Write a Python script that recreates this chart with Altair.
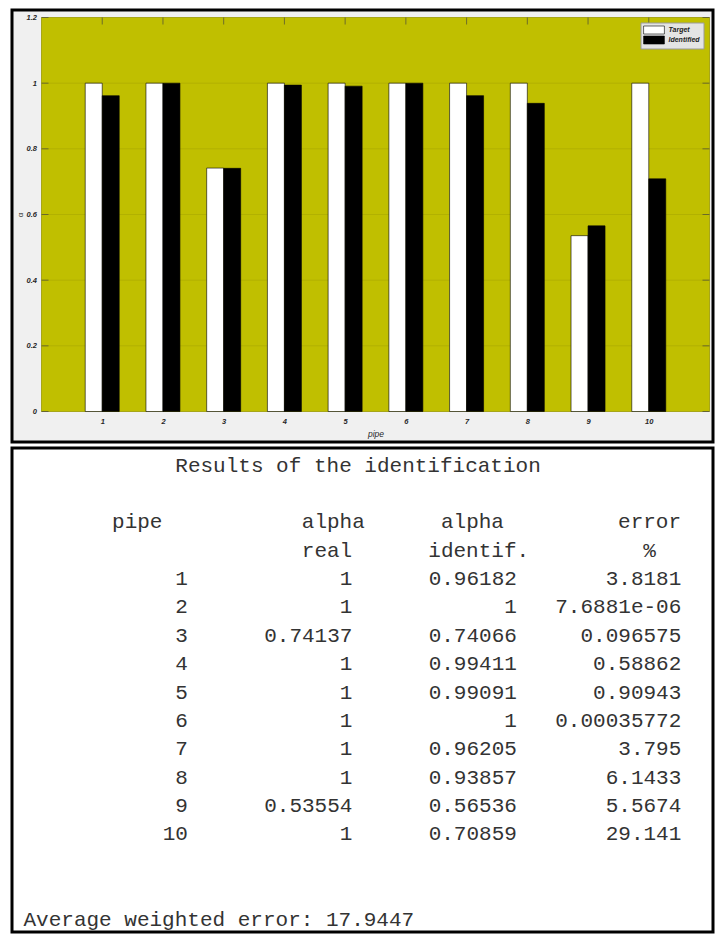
import altair as alt
import pandas as pd

# ---------------- data ----------------
pipes = [1, 2, 3, 4, 5, 6, 7, 8, 9, 10]
alpha_real = [1, 1, 0.74137, 1, 1, 1, 1, 1, 0.53554, 1]
alpha_identified = [0.96182, 1, 0.74066, 0.99411, 0.99091, 1, 0.96205, 0.93857, 0.56536, 0.70859]
error_percent = [3.8181, 7.6881e-06, 0.096575, 0.58862, 0.90943, 0.00035772, 3.795, 6.1433, 5.5674, 29.141]
average_weighted_error = 17.9447
series_names = ["Target", "Identified"]
x_tick_values = [1, 2, 3, 4, 5, 6, 7, 8, 9, 10]
y_tick_values = [0, 0.2, 0.4, 0.6, 0.8, 1, 1.2]
x_limits = [0, 11]
y_limits = [0, 1.2]
report_title = "Results of the identification"
header_line_1 = ["pipe", "alpha", "alpha", "error"]
header_line_2 = ["real", "identif.", "%"]
footer_label = "Average weighted error:"

# ---------------- layout (pixels / text columns) ----------------
W = 701
HT = 432
HB = 484
TOP_LEFT, TOP_TOP = 11.5, 9.5          # page position of top view
BOT_TOP = 446.5                        # page position of bottom view
BOX_L, BOX_R, BOX_T, BOX_B = 41, 709, 17, 411   # page position of plot box

OLIVE = "#c0bf00"
GRID = "#b2b100"
TICKC = "#4a4a3a"
LABEL = "#262626"
SANS = "Liberation Sans"
MONO = "Liberation Mono"

px_x = (BOX_R - BOX_L) / (x_limits[1] - x_limits[0])
xd0 = x_limits[0] - (BOX_L - TOP_LEFT) / px_x
xd1 = xd0 + W / px_x
px_y = (BOX_B - BOX_T) / (y_limits[1] - y_limits[0])
yd0 = y_limits[0] - (TOP_TOP + HT - BOX_B) / px_y
yd1 = y_limits[1] + (BOX_T - TOP_TOP) / px_y

XS = alt.Scale(domain=[xd0, xd1], nice=False, zero=False, padding=0)
YS = alt.Scale(domain=[yd0, yd1], nice=False, zero=False, padding=0)

x_axis = alt.Axis(
    values=x_tick_values, format="d", offset=-(TOP_TOP + HT - BOX_B),
    domain=False, ticks=False, grid=False, labelPadding=6, labelFlush=False,
    labelOverlap=False, labelFont=SANS, labelFontSize=7.5, labelFontStyle="italic",
    labelFontWeight="bold", labelColor=LABEL,
    title="pipe", titleX=375 - TOP_LEFT, titleY=22, titleAlign="center",
    titleBaseline="middle", titleFont=SANS, titleFontSize=8.5, titleFontStyle="italic",
    titleFontWeight="normal", titleColor=LABEL,
)
y_axis = alt.Axis(
    values=y_tick_values, format="~g", offset=-(BOX_L - TOP_LEFT),
    domain=False, ticks=False, grid=False, labelPadding=5, labelFlush=False,
    labelOverlap=False, labelFont=SANS, labelFontSize=7.5, labelFontStyle="italic",
    labelFontWeight="bold", labelColor=LABEL,
    title="α", titleX=20 - BOX_L, titleY=214 - TOP_TOP, titleAngle=270,
    titleAlign="center", titleBaseline="middle", titleFont=SANS, titleFontSize=8,
    titleFontWeight="normal", titleColor=LABEL,
)


def xy(xf, yf):
    return dict(x=alt.X(xf, type="quantitative", scale=XS, axis=x_axis),
                y=alt.Y(yf, type="quantitative", scale=YS, axis=y_axis))


box_df = pd.DataFrame({"x0": [x_limits[0]], "x1": [x_limits[1]],
                       "y0": [y_limits[0]], "y1": [y_limits[1]]})
box = alt.Chart(box_df).mark_rect(fill=OLIVE, stroke="#9a9900", strokeWidth=0.8).encode(
    **xy("x0", "y0"), x2="x1", y2="y1")

grid_df = pd.DataFrame({"y": y_tick_values[1:-1]})
grid_df["x0"] = x_limits[0]
grid_df["x1"] = x_limits[1]
grid = alt.Chart(grid_df).mark_rule(color=GRID, strokeWidth=1).encode(**xy("x0", "y"), x2="x1")

xt_df = pd.DataFrame({"x": x_tick_values})
xt_df["ytop"] = y_limits[1]
xt_df["ybot"] = y_limits[0]
yt_df = pd.DataFrame({"y": y_tick_values})
yt_df["xl"] = x_limits[0]
yt_df["xr"] = x_limits[1]

tick_top = alt.Chart(xt_df).mark_tick(orient="vertical", size=7, thickness=1, yOffset=3.5,
                                      color=TICKC).encode(**xy("x", "ytop"))
tick_bot = alt.Chart(xt_df).mark_tick(orient="vertical", size=7, thickness=1, yOffset=-3.5,
                                      color=TICKC).encode(**xy("x", "ybot"))
tick_left = alt.Chart(yt_df).mark_tick(orient="horizontal", size=7, thickness=1, xOffset=3.5,
                                       color=TICKC).encode(**xy("xl", "y"))
tick_right = alt.Chart(yt_df).mark_tick(orient="horizontal", size=7, thickness=1, xOffset=-3.5,
                                        color=TICKC).encode(**xy("xr", "y"))

bars_df = pd.DataFrame({
    "pipe": pipes * 2,
    "alpha": alpha_real + alpha_identified,
    "series": [series_names[0]] * len(pipes) + [series_names[1]] * len(pipes),
})

legend = alt.Legend(
    title=None, orient="none", legendX=640 - TOP_LEFT, legendY=22 - TOP_TOP,
    direction="vertical", symbolType="M-2.6,-1H2.6V1H-2.6Z", symbolSize=64,
    symbolStrokeColor="black", symbolStrokeWidth=0.6, symbolOffset=6, labelOffset=10,
    padding=3, rowPadding=-2, fillColor="#e4e4e4", strokeColor="#9a9a9a",
    labelFont=SANS, labelFontSize=7, labelFontStyle="italic", labelFontWeight="bold",
    labelColor="#222222", labelLimit=0,
)
color = alt.Color("series:N", scale=alt.Scale(domain=series_names, range=["white", "black"]),
                  legend=legend)

bars_t = alt.Chart(bars_df).transform_filter(
    alt.datum.series == series_names[0]
).mark_bar(size=17, xOffset=-8.5, stroke="black", strokeWidth=0.6).encode(
    **xy("pipe", "alpha"), color=color)
bars_i = alt.Chart(bars_df).transform_filter(
    alt.datum.series == series_names[1]
).mark_bar(size=17, xOffset=8.5, stroke="black", strokeWidth=0.6).encode(
    **xy("pipe", "alpha"), color=color)

top = alt.layer(box, grid, tick_bot, tick_left, tick_right, bars_t, bars_i, tick_top).properties(
    width=W, height=HT,
    view=alt.ViewBackground(fill="#f0f0f0", stroke="black", strokeWidth=3),
)

# ---------------- text report ----------------
COL_PITCH, COL0 = 12.65, 23
LINE_PITCH, LINE0 = 28.375, 464
bxd0 = -(COL0 - TOP_LEFT) / COL_PITCH
bxd1 = bxd0 + W / COL_PITCH
byd0 = -(LINE0 - BOT_TOP) / LINE_PITCH
byd1 = byd0 + HB / LINE_PITCH
XB = alt.Scale(domain=[bxd0, bxd1], nice=False, zero=False, padding=0)
YB = alt.Scale(domain=[byd0, byd1], nice=False, zero=False, padding=0, reverse=True)


def fmt(v):
    return "%.5g" % v


left_rows = [(report_title, 12, 0)]
for t, c in zip(header_line_1, [7, 22, 33, 47]):
    left_rows.append((t, c, 2))
for t, c in zip(header_line_2, [22, 32, 49]):
    left_rows.append((t, c, 3))
left_rows.append((f"{footer_label} {average_weighted_error:.6g}", 0, 16))
left_df = pd.DataFrame(left_rows, columns=["text", "col", "line"])

right_rows = []
for i, p in enumerate(pipes):
    line = 4 + i
    right_rows.append((str(p), 13, line))
    right_rows.append((fmt(alpha_real[i]), 26, line))
    right_rows.append((fmt(alpha_identified[i]), 39, line))
    right_rows.append((fmt(error_percent[i]), 52, line))
right_df = pd.DataFrame(right_rows, columns=["text", "col", "line"])

TEXTC = "#333333"
text_left = alt.Chart(left_df).mark_text(
    align="left", baseline="middle", font=MONO, fontSize=21, color=TEXTC
).encode(x=alt.X("col:Q", scale=XB, axis=None), y=alt.Y("line:Q", scale=YB, axis=None),
         text="text:N")
text_right = alt.Chart(right_df).mark_text(
    align="right", baseline="middle", font=MONO, fontSize=21, color=TEXTC
).encode(x=alt.X("col:Q", scale=XB, axis=None), y=alt.Y("line:Q", scale=YB, axis=None),
         text="text:N")

bottom = alt.layer(text_left, text_right).properties(
    width=W, height=HB,
    view=alt.ViewBackground(fill="white", stroke="black", strokeWidth=3),
)

chart = alt.vconcat(top, bottom, spacing=2).resolve_scale(
    x="independent", y="independent"
).properties(
    padding={"left": 2, "top": 0, "right": 0, "bottom": 0},
    background="white",
)

chart.save("out.html", embed_options={"renderer": "svg", "actions": False})
